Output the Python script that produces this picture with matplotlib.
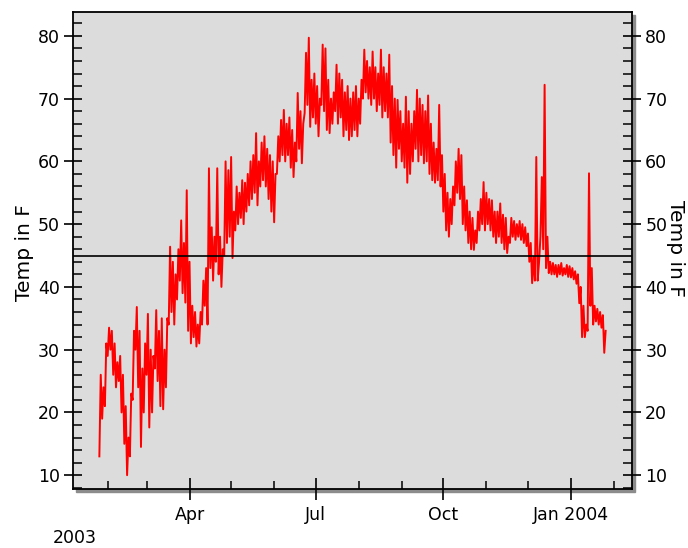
import numpy as np
import matplotlib
matplotlib.use('Agg')
import matplotlib.pyplot as plt
import matplotlib.dates as mdates
from matplotlib.ticker import MultipleLocator, FuncFormatter
from matplotlib.patches import Rectangle

## Data ##

# one low / high pair every 2 days, first pair on 26 Jan 2003
start = np.datetime64('2003-01-26')
step_days = 2

lo = [13, 19, 21, 29, 30, 26, 24, 25, 20, 15,
      10, 13, 22, 30, 24, 14.5, 20, 26, 17.6, 20,
      27, 25, 21, 20.5, 24, 34, 36, 34, 38, 41,
      39, 37.5, 33, 31, 32, 30.5, 31, 34, 37, 34,
      43, 41, 44, 42, 40, 45, 47, 48, 44.6, 49,
      50, 51, 50, 52, 53, 54, 55, 53, 56, 57,
      56, 54, 52, 50.3, 58, 60, 61, 60, 61, 59,
      57.5, 60, 62, 59.7, 67.7, 69, 65.5, 67, 66, 64,
      69, 68, 65, 64.5, 66, 68, 66, 67, 64, 65,
      63.4, 64, 65, 64, 66, 70, 71, 70, 69, 70,
      68, 69, 67, 68, 67, 63, 61, 59, 62, 60,
      59, 56.6, 58, 60, 62, 60, 61, 59.7, 60, 58,
      57, 56.6, 57, 56, 52, 49, 48, 50, 53, 55,
      54, 50, 49, 47, 46, 45.9, 47, 49, 50, 49,
      50, 49, 48, 47, 48, 47, 46, 45.4, 47, 48,
      47.5, 48, 47.5, 47, 46.5, 44, 40.6, 41, 41, 48,
      46, 43, 42.2, 42, 42, 41.6, 42, 41.8, 42, 41.6,
      41.5, 41.2, 40.5, 37.4, 32, 32, 33, 37, 34, 34.5,
      34, 33.5, 29.5]

hi = [26, 24, 31, 33.5, 33, 31, 28, 29, 26, 21,
      16, 23, 33, 36.8, 33, 27, 31, 35.7, 30, 29,
      36.3, 33, 35, 30, 35, 46.4, 44, 42, 46, 50.6,
      47, 55.4, 44, 37, 36, 34, 36, 41, 43, 58.9,
      49.5, 48, 58.9, 48, 46, 60, 58.6, 60.7, 52, 56,
      55, 57, 56.6, 58, 60, 61, 64.5, 60, 63, 64,
      62, 61, 60, 58, 64, 66.6, 68.2, 66, 67, 65,
      63, 70.9, 68, 66, 77.3, 79.7, 73, 74, 72, 70,
      78.6, 78, 73, 70, 71, 75.4, 74, 73, 71, 72,
      70, 71, 72, 70, 73, 77.8, 76, 75, 77.5, 75,
      74, 77.8, 75, 74, 77, 72, 70, 69.8, 68, 66,
      70.3, 68, 66, 68, 71.4, 70, 69, 68, 70.5, 66,
      63, 62, 69, 61, 58, 55, 54, 56, 60, 62,
      61, 56, 53.8, 52, 51, 49, 52, 54, 56.7, 55,
      54, 53.8, 52, 52, 53.3, 51.5, 51, 48, 51, 50.5,
      50, 50.5, 50, 49.5, 48.5, 47, 44.8, 60.7, 44, 57.5,
      72.2, 48, 44, 43.8, 43.5, 43.5, 43.8, 43, 43.5, 43.3,
      43, 42.5, 42, 40, 37, 34, 58.1, 43, 37, 36.5,
      36, 35.5, 33]

ref_level = 45

## Plot ##

t_lo = start + np.arange(len(lo)) * step_days
t_hi = t_lo + 1
times = np.column_stack([t_lo, t_hi]).ravel()
temps = np.column_stack([lo, hi]).ravel()

fig = plt.figure(figsize=(6.88, 5.48), dpi=100)
pos = [73 / 688, 59 / 548, 559 / 688, 477 / 548]
ax = fig.add_axes(pos)

# drop shadow behind the plot box
fig.add_artist(Rectangle((pos[0] + 3 / 688, pos[1] - 3 / 548), pos[2], pos[3],
                         transform=fig.transFigure, color='#8c8c8c', zorder=-1))

ax.set_facecolor('#dcdcdc')
ax.plot(times, temps, color='#ff0000', lw=1.4)
ax.axhline(ref_level, color='black', lw=1.2)

ax.set_ylim(7.8, 83.8)
ax.set_xlim(np.datetime64('2003-01-07'), np.datetime64('2004-02-14'))

ax.yaxis.set_major_locator(MultipleLocator(10))
ax.yaxis.set_minor_locator(MultipleLocator(2))
ax.xaxis.set_major_locator(mdates.MonthLocator(bymonth=[1, 4, 7, 10]))
ax.xaxis.set_minor_locator(mdates.MonthLocator())
ax.xaxis.set_major_formatter(FuncFormatter(
    lambda x, p: mdates.num2date(x).strftime('%b %Y' if mdates.num2date(x).month == 1 else '%b')))

for s in ax.spines.values():
    s.set_linewidth(1.3)

ax.tick_params(axis='y', which='major', direction='inout', length=13, width=1.2,
               left=True, right=True, labelright=True, labelsize=12.5, pad=3)
ax.tick_params(axis='y', which='minor', direction='in', length=6.5, width=1.1,
               left=True, right=True)
ax.tick_params(axis='x', which='major', direction='inout', length=16, width=1.2,
               labelsize=12.5, pad=4)
ax.tick_params(axis='x', which='minor', direction='in', length=6, width=1.1)

fig.text(53 / 688, 10 / 548, '2003', fontsize=12.5, ha='left', va='center')
fig.text(24 / 688, 295 / 548, 'Temp in F', fontsize=14.5, rotation=90, ha='center', va='center')
fig.text(676 / 688, 300 / 548, 'Temp in F', fontsize=14.5, rotation=270, ha='center', va='center')

fig.savefig('out.png', dpi=100)
